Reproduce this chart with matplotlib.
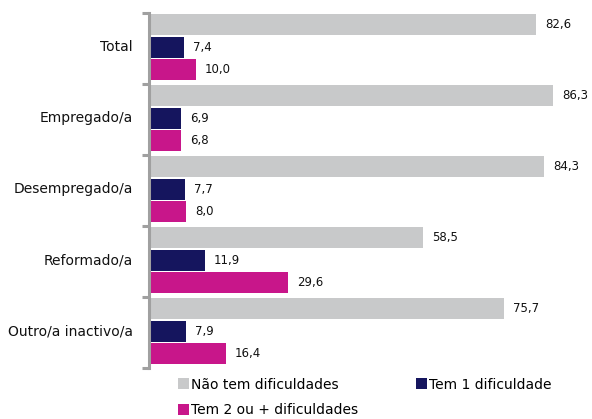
import matplotlib
matplotlib.use("Agg")
import matplotlib.pyplot as plt
import numpy as np

categories = ["Total", "Empregado/a", "Desempregado/a", "Reformado/a", "Outro/a inactivo/a"]
series_names = ["Não tem dificuldades", "Tem 1 dificuldade", "Tem 2 ou + dificuldades"]
nao_tem = [82.6, 86.3, 84.3, 58.5, 75.7]
tem_1 = [7.4, 6.9, 7.7, 11.9, 7.9]
tem_2 = [10.0, 6.8, 8.0, 29.6, 16.4]
colors = ["#C8C9CA", "#15155E", "#C8168A"]

plt.rcParams['font.family'] = ['DejaVu Sans']

fig = plt.figure(figsize=(5.92, 4.19), dpi=100)
ax = fig.add_axes([149/592, 1 - 368/419, 1 - 149/592, 355/419])

n = len(categories)
idx = np.arange(n)
h = 0.295
offsets = [0.165, 0.485, 0.795]
bars = []
for vals, off, col in zip([nao_tem, tem_1, tem_2], offsets, colors):
    b = ax.barh(idx + off, vals, height=h, color=col, edgecolor='none')
    bars.append(b)
    for y, v in zip(idx + off, vals):
        ax.annotate(f"{v:.1f}".replace('.', ','), xy=(v, y), xytext=(6.5, 0),
                    textcoords='offset points', va='center', ha='left', fontsize=8.5,
                    color='#111111')

ax.set_xlim(0, (592 - 149) / 4.685)
ax.set_ylim(n, 0)
for s in ['top', 'right', 'bottom']:
    ax.spines[s].set_visible(False)
ax.spines['left'].set_color('#A0A0A0')
ax.spines['left'].set_linewidth(2.2)
ax.set_xticks([])
ax.set_yticks(np.arange(n + 1))
ax.set_yticklabels([])
ax.tick_params(axis='y', direction='out', length=5, width=2.2, color='#A0A0A0')
for i, c in enumerate(categories):
    ax.annotate(c, xy=(0, i + 0.485), xytext=(-11.5, 0), textcoords='offset points',
                ha='right', va='center', fontsize=10, color='#111111')

handles = [bars[0], bars[2], bars[1]]
labels = [series_names[0], series_names[2], series_names[1]]
fig.legend(handles, labels, ncol=2, loc='upper left', bbox_to_anchor=(172/592, 1 - 372/419),
           frameon=False, fontsize=10, handlelength=0.8, handleheight=0.8,
           handletextpad=0.15, columnspacing=4.2, labelspacing=0.85, borderaxespad=0)

fig.savefig("out.png", dpi=100)
